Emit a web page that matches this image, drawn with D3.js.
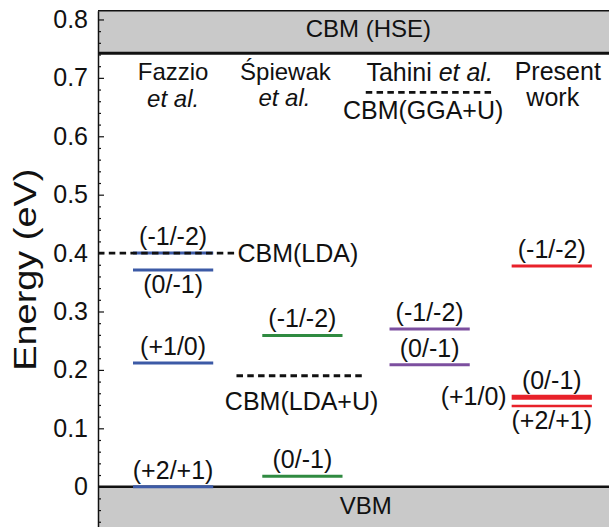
<!DOCTYPE html>
<html>
<head>
<meta charset="utf-8">
<script src="https://cdn.jsdelivr.net/npm/d3@7"></script>
<style>
  body { margin: 0; background: #fff; }
  svg text { font-family: "Liberation Sans", Arial, Helvetica, sans-serif; fill: #111; }
</style>
</head>
<body>
<div id="chart"></div>
<script>
// columns (x position in 0..100 units across the plot)
const columns = ['Fazzio', 'Spiewak', 'Tahini', 'Present'];
const columnX = [14.7, 40, 64.9, 88.8];
const columnColor = ['#3c5aa6', '#2f8a40', '#7c4f9f', '#e8212a'];

// transition levels (eV), one list per column
const levelCol   = [0, 0, 0, 0, 1, 1, 2, 2, 3, 3, 3];
const levelE     = [0.40, 0.371, 0.212, 0.0, 0.259, 0.018, 0.270, 0.209, 0.378, 0.153, 0.138];
const levelLabel = ['(-1/-2)', '(0/-1)', '(+1/0)', '(+2/+1)', '(-1/-2)', '(0/-1)', '(-1/-2)', '(0/-1)', '(-1/-2)', '(0/-1)', '(+2/+1)'];
const labelBelow = [false, true, false, false, false, false, false, false, false, false, true];
const levelWidth = [3, 3, 3, 3, 3, 3, 3, 3, 3, 5, 2.5];

// reference band edges
const cbmHSE = 0.742;
const vbm = 0;

// other-functional CBM (dashed)
const cbmName  = ['CBM(LDA)', 'CBM(LDA+U)', 'CBM(GGA+U)'];
const cbmE     = [0.40, 0.19, 0.675];
const cbmFrom  = [0, 27.1, 52.4];
const cbmTo    = [26.7, 52.2, 77.6];

const yTicks = [0, 0.1, 0.2, 0.3, 0.4, 0.5, 0.6, 0.7, 0.8];

const W = 609, H = 527;
const axisX = 98;
const x = d3.scaleLinear().domain([0, 100]).range([axisX, 609]);
const y = d3.scaleLinear().domain([-0.07, 0.815]).range([527.6, 10.7]);

const svg = d3.select('#chart').append('svg')
  .attr('width', W).attr('height', H);

// gray bands
svg.append('rect')
  .attr('x', axisX).attr('y', y(0.815))
  .attr('width', W - axisX).attr('height', y(cbmHSE) - y(0.815))
  .attr('fill', '#c9c9c9');
svg.append('rect')
  .attr('x', axisX).attr('y', y(vbm))
  .attr('width', W - axisX).attr('height', H - y(vbm))
  .attr('fill', '#c9c9c9');

// frame top + band edges
svg.append('line')
  .attr('x1', axisX).attr('x2', W).attr('y1', y(0.815)).attr('y2', y(0.815))
  .attr('stroke', '#111').attr('stroke-width', 1.5);
svg.append('line')
  .attr('x1', axisX).attr('x2', W).attr('y1', y(cbmHSE)).attr('y2', y(cbmHSE))
  .attr('stroke', '#111').attr('stroke-width', 3);
svg.append('line')
  .attr('x1', axisX).attr('x2', W).attr('y1', y(vbm)).attr('y2', y(vbm))
  .attr('stroke', '#111').attr('stroke-width', 2.5);

svg.append('text')
  .attr('x', x(52.9)).attr('y', y(cbmHSE) - 16)
  .attr('text-anchor', 'middle').attr('font-size', 24)
  .text('CBM (HSE)');
svg.append('text')
  .attr('x', x(52.4)).attr('y', y(vbm) + 27)
  .attr('text-anchor', 'middle').attr('font-size', 24)
  .text('VBM');

// y axis: major ticks with labels, minor ticks every 0.02
const minor = d3.range(-6, 41).map(function (i) { return i * 0.02; })
  .filter(function (v) { return Math.abs(v * 10 - Math.round(v * 10)) > 1e-6; });

svg.append('g')
  .attr('transform', 'translate(' + axisX + ',0)')
  .call(d3.axisLeft(y).tickValues(minor).tickSizeInner(-3).tickSizeOuter(0).tickFormat(''))
  .call(function (g) { g.select('.domain').remove(); })
  .selectAll('line').attr('stroke', '#111').attr('stroke-width', 1.2);

const yAxis = svg.append('g')
  .attr('transform', 'translate(' + axisX + ',0)')
  .call(d3.axisLeft(y).tickValues(yTicks).tickSizeInner(-6).tickSizeOuter(0).tickPadding(10)
    .tickFormat(function (d) { return d === 0 ? '0' : d3.format('.1f')(d); }));
yAxis.select('.domain').attr('stroke', '#111').attr('stroke-width', 1.5);
yAxis.selectAll('line').attr('stroke', '#111').attr('stroke-width', 1.2);
yAxis.selectAll('text')
  .attr('font-size', 25)
  .style('font-family', '"Liberation Sans", Arial, sans-serif')
  .attr('fill', '#111');

svg.append('text')
  .attr('transform', 'translate(36,' + ((y(0.55) + y(0.2)) / 2 + 2) + ') rotate(-90)')
  .attr('text-anchor', 'middle')
  .attr('font-size', 31)
  .attr('textLength', 202)
  .attr('lengthAdjust', 'spacingAndGlyphs')
  .text('Energy (eV)');

// column headers
const hdr = svg.append('g').attr('font-size', 24).attr('text-anchor', 'middle');
hdr.append('text').attr('x', x(columnX[0])).attr('y', 80).text('Fazzio');
hdr.append('text').attr('x', x(columnX[0])).attr('y', 107).attr('font-style', 'italic').text('et al.');
hdr.append('text').attr('x', x(columnX[1]) - 17).attr('y', 80).text('\u015Apiewak');
hdr.append('text').attr('x', x(columnX[1]) - 18).attr('y', 106).attr('font-style', 'italic').text('et al.');
const th = hdr.append('text').attr('x', x(columnX[2])).attr('y', 81).attr('font-size', 25);
th.append('tspan').text('Tahini ');
th.append('tspan').attr('font-style', 'italic').text('et al.');
hdr.append('text').attr('x', x(columnX[3]) + 6).attr('y', 80).attr('font-size', 25).text('Present');
hdr.append('text').attr('x', x(columnX[3]) + 1).attr('y', 106).attr('font-size', 25).text('work');

// transition levels
const halfW = 7.85;
const levels = levelE.map(function (e, i) {
  return { col: levelCol[i], e: e, label: levelLabel[i], below: labelBelow[i], w: levelWidth[i] };
});

svg.selectAll('.level')
  .data(levels)
  .enter().append('line')
  .attr('class', 'level')
  .attr('x1', function (d) { return x(columnX[d.col] - halfW); })
  .attr('x2', function (d) { return x(columnX[d.col] + halfW); })
  .attr('y1', function (d) { return y(d.e); })
  .attr('y2', function (d) { return y(d.e); })
  .attr('stroke', function (d) { return columnColor[d.col]; })
  .attr('stroke-width', function (d) { return d.w; });

svg.selectAll('.level-label')
  .data(levels)
  .enter().append('text')
  .attr('class', 'level-label')
  .attr('x', function (d) { return x(columnX[d.col]); })
  .attr('y', function (d) { return y(d.e) + (d.below ? 23 : -8); })
  .attr('text-anchor', 'middle')
  .attr('font-size', 25)
  .text(function (d) { return d.label; });

// (+1/0) label sitting left of the present-work pair
svg.append('text')
  .attr('x', x(columnX[3] - halfW) - 5).attr('y', y(0.153) + 8)
  .attr('text-anchor', 'end').attr('font-size', 25)
  .text('(+1/0)');

// dashed CBMs from other functionals
const cbm = cbmName.map(function (n, i) {
  return { name: n, e: cbmE[i], from: cbmFrom[i], to: cbmTo[i] };
});
svg.selectAll('.cbm')
  .data(cbm)
  .enter().append('line')
  .attr('class', 'cbm')
  .attr('x1', function (d) { return x(d.from); })
  .attr('x2', function (d) { return x(d.to); })
  .attr('y1', function (d) { return y(d.e); })
  .attr('y2', function (d) { return y(d.e); })
  .attr('stroke', '#111')
  .attr('stroke-width', 2.8)
  .attr('stroke-dasharray', '6.5,4.3');

// CBM(LDA) label to the right, the others below
svg.append('text')
  .attr('x', x(cbm[0].to) + 3).attr('y', y(cbm[0].e) + 9)
  .attr('font-size', 25).text(cbm[0].name);
svg.append('text')
  .attr('x', x((cbm[1].from + cbm[1].to) / 2) + 1).attr('y', y(cbm[1].e) + 34)
  .attr('text-anchor', 'middle').attr('font-size', 25).text(cbm[1].name);
svg.append('text')
  .attr('x', x((cbm[2].from + cbm[2].to) / 2) - 7).attr('y', y(cbm[2].e) + 27)
  .attr('text-anchor', 'middle').attr('font-size', 25).text(cbm[2].name);
</script>
</body>
</html>
